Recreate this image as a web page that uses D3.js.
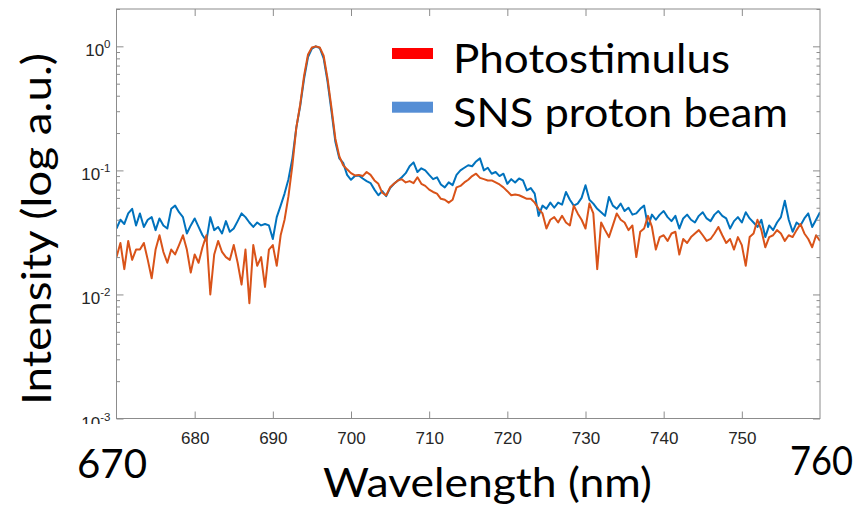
<!DOCTYPE html>
<html>
<head>
<meta charset="utf-8">
<script src="https://cdn.jsdelivr.net/npm/d3@7"></script>
<style>
  html, body { margin: 0; padding: 0; background: #fff; }
  svg { display: block; }
</style>
</head>
<body>
<svg id="chart" width="865" height="509"></svg>
<script>
// ---------------- DATA ----------------
const seriesNames = ["Photostimulus", "SNS proton beam"];
const xTickValues = [680, 690, 700, 710, 720, 730, 740, 750];
const yTickExponents = [0, -1, -2, -3];
const xDomain = [670, 760];
const yDomain = [0.001, 2];
const wavelengthStart = 670;
const wavelengthStep = 0.5;

// SNS proton beam (blue), 670..760 nm every 0.5 nm
const snsValues = [
  0.034,0.040,0.037,0.045,0.049,0.036,0.045,0.035,0.040,0.042,
  0.033,0.041,0.036,0.034,0.049,0.052,0.046,0.042,0.031,0.036,
  0.041,0.035,0.030,0.027,0.042,0.033,0.035,0.031,0.039,0.032,
  0.034,0.039,0.045,0.042,0.038,0.035,0.038,0.036,0.037,0.036,
  0.028,0.042,0.052,0.065,0.085,0.125,0.22,0.33,0.55,0.82,
  0.96,1.0,0.97,0.80,0.52,0.30,0.17,0.125,0.115,0.092,
  0.084,0.090,0.091,0.086,0.082,0.079,0.070,0.063,0.068,0.062,
  0.072,0.078,0.083,0.088,0.095,0.108,0.116,0.097,0.104,0.100,
  0.092,0.085,0.088,0.077,0.073,0.080,0.076,0.092,0.100,0.105,
  0.110,0.108,0.118,0.125,0.100,0.105,0.094,0.097,0.090,0.094,
  0.078,0.085,0.080,0.086,0.083,0.069,0.072,0.065,0.043,0.052,
  0.049,0.055,0.050,0.055,0.053,0.067,0.058,0.052,0.054,0.060,
  0.076,0.058,0.054,0.049,0.046,0.043,0.061,0.052,0.049,0.054,
  0.047,0.050,0.044,0.045,0.049,0.052,0.035,0.044,0.040,0.044,
  0.047,0.042,0.039,0.043,0.034,0.041,0.044,0.040,0.038,0.043,
  0.046,0.041,0.039,0.044,0.047,0.043,0.041,0.034,0.039,0.042,
  0.038,0.046,0.041,0.038,0.035,0.040,0.029,0.036,0.033,0.038,
  0.042,0.057,0.040,0.032,0.038,0.036,0.041,0.045,0.035,0.040,
  0.046
];

// Photostimulus (orange), 670..760 nm every 0.5 nm
const photoValues = [
  0.020,0.026,0.016,0.027,0.019,0.023,0.023,0.026,0.019,0.0135,
  0.023,0.030,0.022,0.018,0.023,0.021,0.025,0.030,0.023,0.015,
  0.021,0.018,0.024,0.030,0.010,0.021,0.027,0.022,0.020,0.019,
  0.025,0.018,0.012,0.023,0.0085,0.025,0.017,0.020,0.0115,0.023,
  0.025,0.017,0.030,0.040,0.062,0.110,0.22,0.34,0.58,0.86,
  0.98,1.0,0.98,0.84,0.55,0.32,0.18,0.13,0.11,0.102,
  0.095,0.091,0.092,0.090,0.097,0.092,0.083,0.078,0.066,0.063,
  0.073,0.078,0.083,0.085,0.080,0.082,0.079,0.088,0.078,0.075,
  0.070,0.067,0.065,0.059,0.058,0.055,0.058,0.073,0.075,0.080,
  0.084,0.090,0.094,0.087,0.085,0.083,0.083,0.080,0.077,0.073,
  0.068,0.063,0.064,0.063,0.061,0.059,0.059,0.055,0.049,0.045,
  0.034,0.040,0.042,0.038,0.043,0.038,0.036,0.052,0.045,0.040,
  0.034,0.054,0.045,0.016,0.038,0.033,0.029,0.036,0.045,0.040,
  0.038,0.033,0.036,0.020,0.032,0.034,0.043,0.035,0.023,0.029,
  0.030,0.027,0.031,0.032,0.021,0.028,0.026,0.029,0.031,0.033,
  0.030,0.027,0.028,0.031,0.035,0.030,0.026,0.028,0.023,0.029,
  0.025,0.017,0.029,0.031,0.040,0.033,0.024,0.029,0.030,0.033,
  0.031,0.027,0.030,0.029,0.033,0.037,0.031,0.028,0.024,0.030,
  0.027
];

const lineColors = ["#D95319", "#0072BD"];
const legendColors = ["#FF0000", "#558ED5"];

// ---------------- LAYOUT ----------------
const W = 865, H = 509;
const plot = { left: 116.5, right: 820, top: 9, bottom: 418.5 };

const svg = d3.select("#chart");

const x = d3.scaleLinear().domain(xDomain).range([plot.left, plot.right]);
const y = d3.scaleLog().domain(yDomain).range([plot.bottom, plot.top]);

const wl = (i) => wavelengthStart + i * wavelengthStep;

const axisColor = "#8c8c8c";
const labelColor = "#262626";

// clip for plot area
svg.append("defs").append("clipPath").attr("id", "plotClip")
  .append("rect")
  .attr("x", plot.left).attr("y", plot.top)
  .attr("width", plot.right - plot.left).attr("height", plot.bottom - plot.top);

svg.select("defs").append("clipPath").attr("id", "labelClip")
  .append("rect").attr("x", 0).attr("y", 0).attr("width", W).attr("height", 424);

// ---------------- LINES ----------------
const line = d3.line()
  .x((d, i) => x(wl(i)))
  .y(d => y(d));

const lines = svg.append("g").attr("clip-path", "url(#plotClip)");
lines.append("path")
  .datum(snsValues)
  .attr("fill", "none")
  .attr("stroke", lineColors[1])
  .attr("stroke-width", 2)
  .attr("stroke-linejoin", "round")
  .attr("d", line);
lines.append("path")
  .datum(photoValues)
  .attr("fill", "none")
  .attr("stroke", lineColors[0])
  .attr("stroke-width", 2)
  .attr("stroke-linejoin", "round")
  .attr("d", line);

// ---------------- AXES ----------------
const majorLen = 7, minorLen = 3.5;

// bottom axis
const xAxisBottom = d3.axisBottom(x).tickValues(xTickValues).tickSize(-majorLen).tickPadding(13)
  .tickFormat(d3.format("d"));
const gxb = svg.append("g").attr("transform", `translate(0,${plot.bottom})`).call(xAxisBottom);
gxb.select(".domain").remove();
gxb.selectAll(".tick line").attr("stroke", axisColor);
gxb.selectAll(".tick text")
  .attr("fill", labelColor)
  .style("font-family", "'Liberation Sans', Arial, sans-serif")
  .style("font-size", "17px");

// top axis
const xAxisTop = d3.axisTop(x).tickValues(xTickValues).tickSize(-majorLen).tickFormat("");
const gxt = svg.append("g").attr("transform", `translate(0,${plot.top})`).call(xAxisTop);
gxt.select(".domain").remove();
gxt.selectAll(".tick line").attr("stroke", axisColor);

// y minor ticks values
const minorVals = [];
[-3, -2, -1, 0].forEach(e => {
  for (let m = 2; m <= 9; m++) {
    const v = m * Math.pow(10, e);
    if (v <= yDomain[1] && v >= yDomain[0]) minorVals.push(v);
  }
});
const majorVals = yTickExponents.map(e => Math.pow(10, e));

function yAxisGroup(side) {
  const xPos = side === "left" ? plot.left : plot.right;
  const gen = side === "left" ? d3.axisLeft : d3.axisRight;
  const gMaj = svg.append("g").attr("transform", `translate(${xPos},0)`)
    .call(gen(y).tickValues(majorVals).tickSize(-majorLen).tickFormat(""));
  gMaj.select(".domain").remove();
  gMaj.selectAll(".tick line").attr("stroke", axisColor);
  const gMin = svg.append("g").attr("transform", `translate(${xPos},0)`)
    .call(gen(y).tickValues(minorVals).tickSize(-minorLen).tickFormat(""));
  gMin.select(".domain").remove();
  gMin.selectAll(".tick line").attr("stroke", axisColor);
}
yAxisGroup("left");
yAxisGroup("right");

// box
svg.append("rect")
  .attr("x", plot.left).attr("y", plot.top)
  .attr("width", plot.right - plot.left).attr("height", plot.bottom - plot.top)
  .attr("fill", "none").attr("stroke", axisColor).attr("stroke-width", 1);

// y tick labels 10^n
const yLab = svg.append("g").attr("clip-path", "url(#labelClip)");
yTickExponents.forEach(e => {
  const t = yLab.append("text")
    .attr("x", plot.left - 6)
    .attr("y", y(Math.pow(10, e)) + 10)
    .attr("text-anchor", "end")
    .attr("fill", labelColor)
    .style("font-family", "'Liberation Sans', Arial, sans-serif")
    .style("font-size", "17px");
  t.append("tspan").text("10");
  t.append("tspan").attr("dy", -8).style("font-size", "11.5px").text(String(e));
});

// ---------------- BIG LABELS ----------------
const bigFont = "Lato, 'Open Sans', sans-serif";
svg.append("text").attr("x", 77).attr("y", 478)
  .attr("textLength", 70).attr("lengthAdjust", "spacingAndGlyphs")
  .style("font-family", bigFont).style("font-size", "40px").attr("fill", "#000")
  .text(String(xDomain[0]));
svg.append("text").attr("x", 790).attr("y", 475)
  .attr("textLength", 63).attr("lengthAdjust", "spacingAndGlyphs")
  .style("font-family", bigFont).style("font-size", "40px").attr("fill", "#000")
  .text(String(xDomain[1]));

svg.append("text").attr("x", 323).attr("y", 497)
  .attr("textLength", 329).attr("lengthAdjust", "spacingAndGlyphs")
  .style("font-family", bigFont).style("font-size", "40px").attr("fill", "#000")
  .text("Wavelength (nm)");

svg.append("text")
  .attr("transform", "translate(51,405) rotate(-90)")
  .attr("x", 0).attr("y", 0)
  .attr("textLength", 352).attr("lengthAdjust", "spacingAndGlyphs")
  .style("font-family", bigFont).style("font-size", "40px").attr("fill", "#000")
  .text("Intensity (log a.u.)");

// ---------------- LEGEND ----------------
const legendY = [48, 101.7];
const legendBase = [72.5, 126.5];
const legendW = [277, 335];
seriesNames.forEach((name, i) => {
  svg.append("rect").attr("x", 392).attr("y", legendY[i])
    .attr("width", 41).attr("height", 11).attr("fill", legendColors[i]);
  svg.append("text").attr("x", 453).attr("y", legendBase[i])
    .attr("textLength", legendW[i]).attr("lengthAdjust", "spacingAndGlyphs")
    .style("font-family", bigFont).style("font-size", "40px").attr("fill", "#000")
    .text(name);
});
</script>
</body>
</html>
